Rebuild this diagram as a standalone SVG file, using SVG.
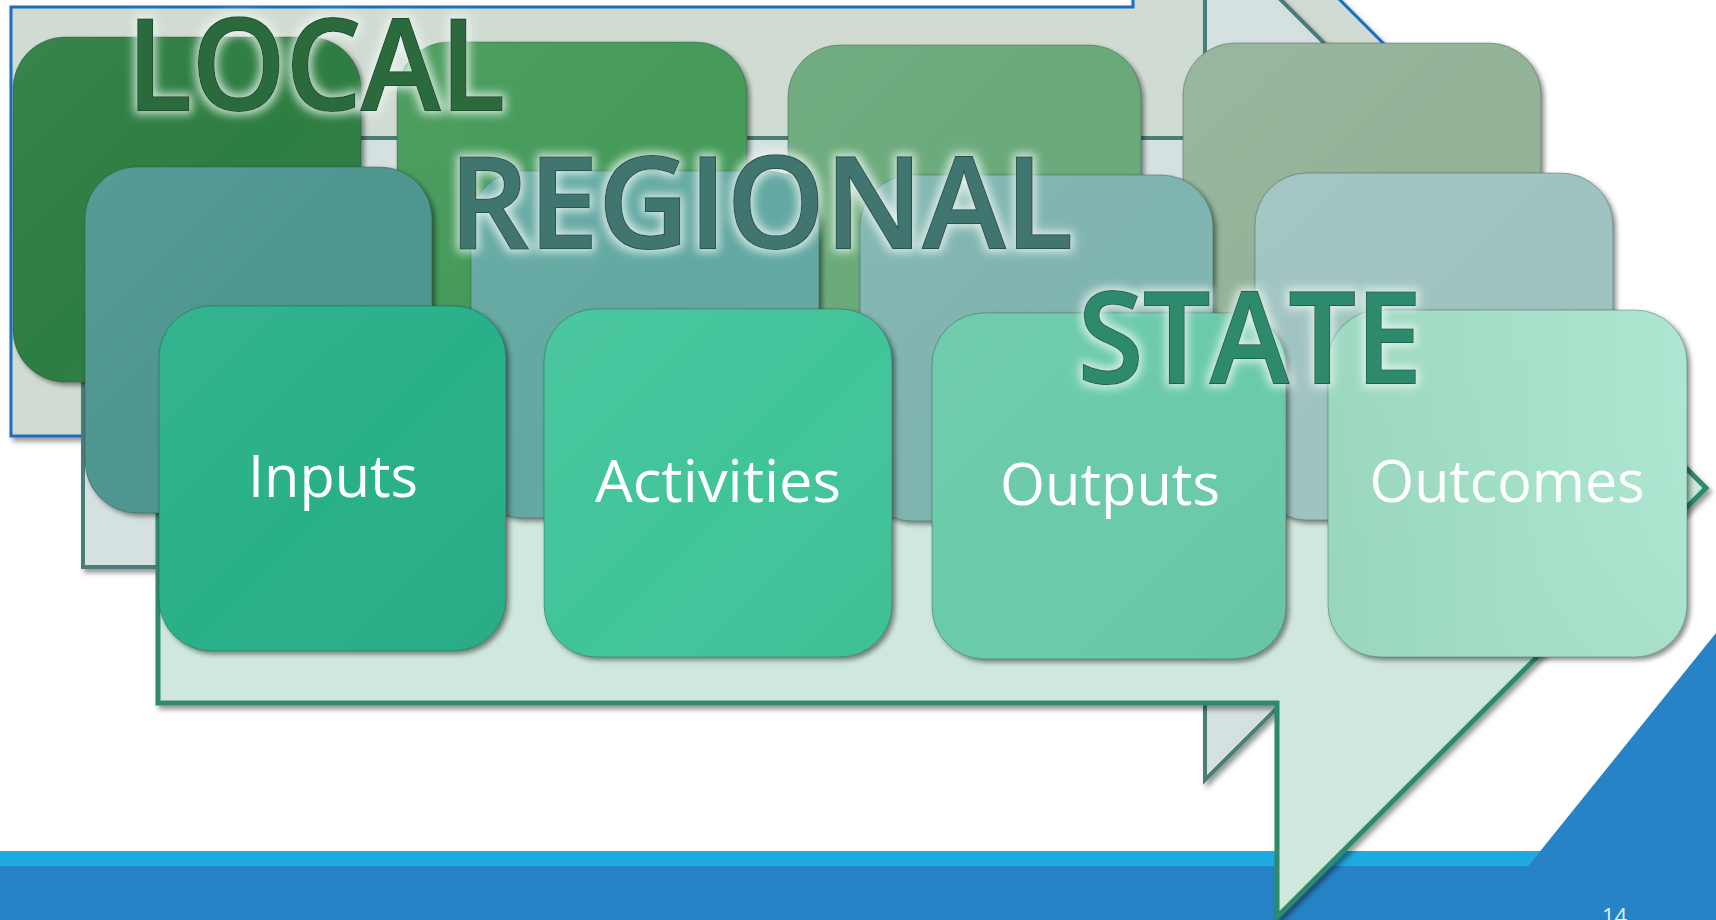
<svg xmlns="http://www.w3.org/2000/svg" width="1716" height="920" viewBox="0 0 1716 920">
<defs>
<style>
.frame{stroke-linejoin:miter;filter:url(#fsh)}
.f1{fill:#d0dbd2;stroke:#1b6ec2;stroke-width:3}
.f2{fill:#d5e0e0;stroke:#4a7d78;stroke-width:4}
.f3{fill:#cfe7dc;stroke:#2f8a6d;stroke-width:5}
.box{stroke:#1d3b33;stroke-opacity:0.35;stroke-width:1;filter:url(#bsh)}
.sheen{fill:url(#sheen);pointer-events:none}
.lbl{font-family:"Open Sans","Liberation Sans",sans-serif;font-size:59px;fill:#ffffff;text-anchor:middle}
.big{font-family:"Open Sans","Liberation Sans",sans-serif;font-weight:600;font-size:126px;stroke-width:2;paint-order:stroke;filter:url(#glow)}
</style>
<filter id="bsh" x="-5%" y="-5%" width="115%" height="115%">
<feDropShadow dx="3" dy="3" stdDeviation="2.5" flood-color="#000" flood-opacity="0.45"/>
</filter>
<filter id="fsh" x="-5%" y="-5%" width="115%" height="115%">
<feDropShadow dx="3" dy="4" stdDeviation="2.5" flood-color="#000" flood-opacity="0.4"/>
</filter>
<filter id="glow" x="-10%" y="-25%" width="120%" height="150%">
<feMorphology in="SourceAlpha" operator="dilate" radius="3" result="d"/>
<feGaussianBlur in="d" stdDeviation="5" result="b"/>
<feFlood flood-color="#eef8f2" flood-opacity="0.8"/>
<feComposite in2="b" operator="in" result="g"/>
<feMerge><feMergeNode in="g"/><feMergeNode in="SourceGraphic"/></feMerge>
</filter>
<linearGradient id="sheen" x1="0" y1="0" x2="1" y2="1">
<stop offset="0" stop-color="#ffffff" stop-opacity="0.05"/>
<stop offset="0.5" stop-color="#ffffff" stop-opacity="0"/>
<stop offset="1" stop-color="#000000" stop-opacity="0.03"/>
</linearGradient>
<linearGradient id="gOut" x1="0" y1="0" x2="1" y2="0">
<stop offset="0" stop-color="#98d6bd"/>
<stop offset="1" stop-color="#aee7d1"/>
</linearGradient>
</defs>

<rect x="0" y="0" width="1716" height="920" fill="#ffffff"/>

<g id="footer">
<rect x="0" y="851" width="1716" height="16" fill="#1eaae2"/>
<rect x="0" y="866" width="1716" height="54" fill="#2683c6"/>
<polygon points="1716,633 1716,870 1525,870" fill="#2683c6"/>
<text x="1602" y="924" font-family="'Open Sans','Liberation Sans',sans-serif" font-size="22" fill="#e6eff7">14</text>
</g>

<g id="frame-local">
<polygon class="frame f1" points="11,7 1133,7 1133,-207 1561,221 1133,649 1133,436 11,436"/>
</g>
<g id="frame-regional">
<polygon class="frame f2" points="83,138 1205,138 1205,-76 1633,352 1205,780 1205,567 83,567"/>
</g>
<g id="frame-state">
<polygon class="frame f3" points="158,274 1277,274 1277,59 1706,488 1277,917 1277,703 158,703"/>
</g>

<g id="row-local">
<g id="local-1"><rect class="box" x="13" y="37" width="348" height="345" rx="52" fill="#2d7d42"/><rect class="sheen" x="13" y="37" width="348" height="345" rx="52"/></g>
<g id="local-2"><rect class="box" x="397" y="42" width="350" height="345" rx="52" fill="#459a5a"/><rect class="sheen" x="397" y="42" width="350" height="345" rx="52"/></g>
<g id="local-3"><rect class="box" x="788" y="45" width="353" height="345" rx="52" fill="#6aa97a"/><rect class="sheen" x="788" y="45" width="353" height="345" rx="52"/></g>
<g id="local-4"><rect class="box" x="1183" y="43" width="358" height="345" rx="52" fill="#93b399"/><rect class="sheen" x="1183" y="43" width="358" height="345" rx="52"/></g>
</g>

<g id="row-regional">
<g id="regional-1"><rect class="box" x="85" y="167" width="347" height="346" rx="52" fill="#4f9690"/><rect class="sheen" x="85" y="167" width="347" height="346" rx="52"/></g>
<g id="regional-2"><rect class="box" x="471" y="171" width="348" height="347" rx="52" fill="#63a8a2"/><rect class="sheen" x="471" y="171" width="348" height="347" rx="52"/></g>
<g id="regional-3"><rect class="box" x="860" y="175" width="353" height="346" rx="52" fill="#80b4b0"/><rect class="sheen" x="860" y="175" width="353" height="346" rx="52"/></g>
<g id="regional-4"><rect class="box" x="1255" y="173" width="358" height="347" rx="52" fill="#9fc3c1"/><rect class="sheen" x="1255" y="173" width="358" height="347" rx="52"/></g>
</g>

<g id="row-state">
<g id="inputs"><rect class="box" x="159" y="306" width="347" height="345" rx="52" fill="#2ab089"/><rect class="sheen" x="159" y="306" width="347" height="345" rx="52"/><text class="lbl" x="333" y="497" textLength="170" lengthAdjust="spacingAndGlyphs">Inputs</text></g>
<g id="activities"><rect class="box" x="544" y="309" width="348" height="348" rx="52" fill="#43c49b"/><rect class="sheen" x="544" y="309" width="348" height="348" rx="52"/><text class="lbl" x="718" y="502" textLength="246" lengthAdjust="spacingAndGlyphs">Activities</text></g>
<g id="outputs"><rect class="box" x="932" y="313" width="354" height="346" rx="52" fill="#6bcaa9"/><rect class="sheen" x="932" y="313" width="354" height="346" rx="52"/><text class="lbl" x="1110" y="505" textLength="220" lengthAdjust="spacingAndGlyphs">Outputs</text></g>
<g id="outcomes"><rect class="box" x="1328" y="310" width="359" height="347" rx="52" fill="url(#gOut)"/><rect class="sheen" x="1328" y="310" width="359" height="347" rx="52"/><text class="lbl" x="1507" y="502" textLength="275" lengthAdjust="spacingAndGlyphs">Outcomes</text></g>
</g>

<g id="titles">
<text id="t-local" class="big" x="127" y="110" textLength="378" lengthAdjust="spacingAndGlyphs" fill="#2b6a3e" stroke="#1c4f2e">LOCAL</text>
<text id="t-regional" class="big" x="449" y="248" textLength="624" lengthAdjust="spacingAndGlyphs" fill="#3f7470" stroke="#2a524f">REGIONAL</text>
<text id="t-state" class="big" x="1078" y="383" textLength="344" lengthAdjust="spacingAndGlyphs" fill="#2e8a6c" stroke="#1f6450">STATE</text>
</g>
</svg>
